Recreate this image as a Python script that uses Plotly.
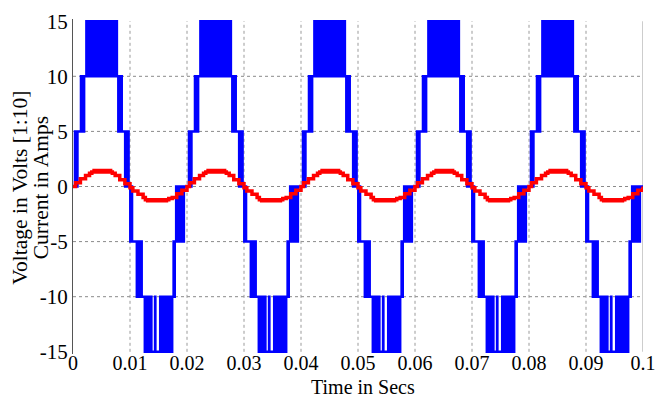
import plotly.graph_objects as go

# ---- data -------------------------------------------------------------
PERIOD_MS = 20.0          # fundamental period (50 Hz)
N_CYCLES = 5

# seven-level inverter output (scaled 1:10): switching edges over one period
V_EDGE_MS = [
    0.00,
    0.35, 0.42, 0.50, 0.56, 0.64, 0.69, 0.78,
    1.40, 1.47, 1.58, 1.64, 1.76, 1.80, 1.95,
    2.35, 2.48, 2.60, 2.70, 2.80, 2.92, 3.00, 3.22, 3.28, 3.62, 3.68, 4.05, 4.09,
    4.50, 4.53, 4.95, 4.98, 5.40, 5.44, 5.85, 5.90, 6.30, 6.36, 6.75, 6.85, 7.05,
    7.15, 7.30, 7.42, 7.55, 7.62, 7.70,
    7.95, 8.05, 8.15, 8.22, 8.35, 8.40, 8.55,
    9.15, 9.22, 9.35, 9.42, 9.55, 9.60, 9.75,
    10.05, 10.12, 10.20, 10.26, 10.36,
    11.20, 11.32, 11.55, 11.62, 11.85, 11.90, 12.05,
    12.60, 12.70, 12.78, 12.86, 12.95, 13.02, 13.12, 13.20, 13.30, 13.45, 13.50,
    13.70, 13.75, 14.40, 14.45, 15.30, 15.35, 15.60, 15.70, 15.90, 16.00, 16.25,
    16.35, 16.60, 16.70, 16.90, 17.00, 17.20, 17.25, 17.40,
    17.65, 17.75, 17.85,
    18.10, 18.30, 18.50, 18.62, 18.85, 18.95, 19.15, 19.25, 19.45,
]
V_LEVEL = [
    0,
    5, 0, 5, 0, 5, 0, 5,
    10, 5, 10, 5, 10, 5, 10,
    15, 10, 15, 10, 15, 10, 15, 10, 15, 10, 15, 10, 15,
    10, 15, 10, 15, 10, 15, 10, 15, 10, 15, 10, 15, 10,
    15, 10, 15, 10, 15, 10,
    5, 10, 5, 10, 5, 10, 5,
    0, 5, 0, 5, 0, 5, 0,
    -5, 0, -5, 0, -5,
    -10, -5, -10, -5, -10, -5, -10,
    -15, -10, -15, -10, -15, -10, -15, -10, -15, -10, -15,
    -10, -15, -10, -15, -10, -15, -10, -15, -10, -15, -10,
    -15, -10, -15, -10, -15, -10, -15, -10,
    -5, -10, -5,
    0, -5, 0, -5, 0, -5, 0, -5, 0,
]

# load current (A): sampled staircase over one period
I_EDGE_MS = [
    0.00, 0.45, 1.30, 2.20, 2.90, 3.30, 3.70, 3.80, 4.10, 4.20, 4.50, 4.60, 4.90,
    5.00, 5.30, 5.40, 5.70, 5.80, 6.10, 6.20, 6.50, 6.60, 6.90, 7.40, 8.20, 9.10,
    10.00, 10.50, 11.40, 12.30, 12.70, 13.10, 13.20, 13.50, 13.60, 13.90, 14.00,
    14.30, 14.40, 14.70, 14.80, 15.10, 15.20, 15.50, 15.60, 15.90, 16.00, 16.30,
    16.40, 16.80, 17.40, 18.20, 19.10,
]
I_LEVEL = [
    0.00, 0.35, 0.70, 1.00, 1.20, 1.32, 1.45, 1.32, 1.45, 1.32, 1.45, 1.32, 1.45,
    1.32, 1.45, 1.32, 1.45, 1.32, 1.45, 1.32, 1.45, 1.32, 1.20, 1.00, 0.62, 0.24,
    -0.12, -0.41, -0.71, -1.00, -1.20, -1.30, -1.20, -1.30, -1.20, -1.30, -1.20,
    -1.30, -1.20, -1.30, -1.20, -1.30, -1.20, -1.30, -1.20, -1.30, -1.20, -1.30,
    -1.20, -1.10, -1.00, -0.65, -0.35,
]

X_TICKS = [0, 0.01, 0.02, 0.03, 0.04, 0.05, 0.06, 0.07, 0.08, 0.09, 0.1]
X_TICK_TEXT = ["0", "0.01", "0.02", "0.03", "0.04", "0.05", "0.06", "0.07", "0.08", "0.09", "0.1"]
Y_TICKS = [-15, -10, -5, 0, 5, 10, 15]
Y_TICK_TEXT = ["-15", "-10", "-5", "0", "5", "10", "15"]
Y_GRID = [-10, -5, 0, 5, 10]
X_GRID = [0.01, 0.02, 0.03, 0.04, 0.05, 0.06, 0.07, 0.08, 0.09]


def tile(edges_ms, levels):
    """Repeat one period of step edges over all cycles (time in seconds)."""
    t, v = [], []
    for k in range(N_CYCLES):
        for e, lv in zip(edges_ms, levels):
            t.append((k * PERIOD_MS + e) / 1000.0)
            v.append(lv)
    t.append(N_CYCLES * PERIOD_MS / 1000.0)
    v.append(levels[0])
    return t, v


vt, vv = tile(V_EDGE_MS, V_LEVEL)
it, iv = tile(I_EDGE_MS, I_LEVEL)

SERIF = "Liberation Serif, Times New Roman, serif"

fig = go.Figure()
fig.add_trace(go.Scatter(x=vt, y=vv, mode="lines", line=dict(color="#0000ff", width=2.5, shape="hv"),
                         name="Voltage", showlegend=False))
fig.add_trace(go.Scatter(x=it, y=iv, mode="lines", line=dict(color="#ff0000", width=3.5, shape="hv"),
                         name="Current", showlegend=False))

shapes = []
for g in Y_GRID:
    shapes.append(dict(type="line", xref="x", yref="y", x0=0, x1=0.1, y0=g, y1=g, layer="below",
                       line=dict(color="#8a8a8a", width=1, dash="dot")))
for g in X_GRID:
    shapes.append(dict(type="line", xref="x", yref="y", x0=g, x1=g, y0=-15, y1=15, layer="below",
                       line=dict(color="#9a9a9a", width=1, dash="dot")))
# right frame edge
shapes.append(dict(type="line", xref="x", yref="y", x0=0.1, x1=0.1, y0=-15, y1=15, layer="below",
                   line=dict(color="#bdbdbd", width=1.5)))

fig.update_layout(
    width=669, height=400,
    margin=dict(l=73, r=26, t=10, b=46),
    paper_bgcolor="white", plot_bgcolor="white",
    shapes=shapes,
    font=dict(family=SERIF, size=19, color="black"),
    annotations=[
        dict(text="Voltage in Volts [1:10]", xref="paper", yref="paper", x=-0.092, y=0.495,
             textangle=-90, showarrow=False, xanchor="center", yanchor="middle",
             font=dict(family=SERIF, size=21.5)),
        dict(text="Current in Amps", xref="paper", yref="paper", x=-0.056, y=0.495,
             textangle=-90, showarrow=False, xanchor="center", yanchor="middle",
             font=dict(family=SERIF, size=21.5)),
        dict(text="Time in Secs", xref="paper", yref="paper", x=0.508, y=-0.099,
             showarrow=False, xanchor="center", yanchor="middle",
             font=dict(family=SERIF, size=20)),
    ],
)
fig.update_xaxes(range=[0, 0.1], tickvals=X_TICKS, ticktext=X_TICK_TEXT, showgrid=False,
                 zeroline=False, showline=False, ticks="", ticklabelstandoff=-5,
                 tickfont=dict(family=SERIF, size=20))
fig.update_yaxes(range=[-15.2, 15.2], tickvals=Y_TICKS, ticktext=Y_TICK_TEXT, showgrid=False,
                 zeroline=False, showline=True, linecolor="#555555", linewidth=1, ticks="",
                 tickfont=dict(family=SERIF, size=21))

fig.write_html("out.html")
